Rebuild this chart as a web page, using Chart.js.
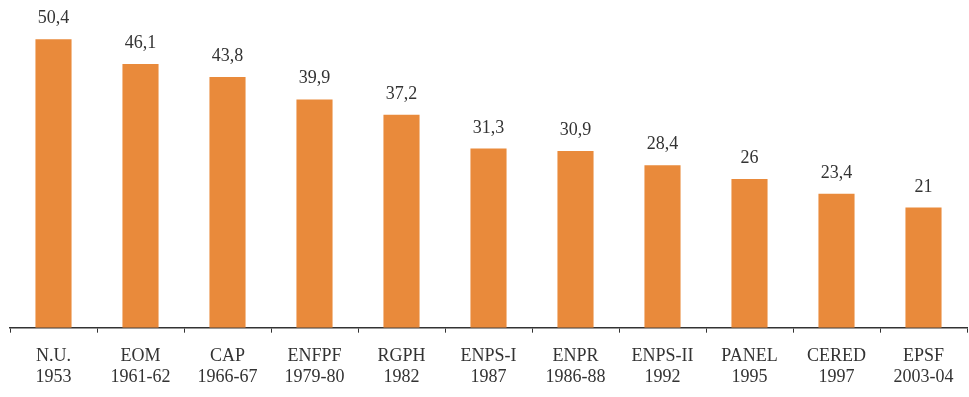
<!DOCTYPE html>
<html>
<head>
<meta charset="utf-8">
<script src="https://cdn.jsdelivr.net/npm/chart.js@4.4.1/dist/chart.umd.min.js"></script>
<style>
    html, body { margin: 0; padding: 0; background: #fff; }
    #wrap { width: 969px; height: 397px; }
</style>
</head>
<body>
<div id="wrap"><canvas id="chart"></canvas></div>
<script>
// enquêtes et années
const surveys = ['N.U.', 'EOM', 'CAP', 'ENFPF', 'RGPH', 'ENPS-I', 'ENPR', 'ENPS-II', 'PANEL', 'CERED', 'EPSF'];
const years = ['1953', '1961-62', '1966-67', '1979-80', '1982', '1987', '1986-88', '1992', '1995', '1997', '2003-04'];
const values = [50.4, 46.1, 43.8, 39.9, 37.2, 31.3, 30.9, 28.4, 26, 23.4, 21];

const labels = surveys.map((s, i) => [s, years[i]]);

// valeurs au-dessus des barres, virgule décimale
const valueLabels = {
    id: 'valueLabels',
    afterDatasetsDraw(chart) {
        const ctx = chart.ctx;
        const meta = chart.getDatasetMeta(0);
        ctx.save();
        ctx.font = '18px "Liberation Serif", "DejaVu Serif", serif';
        ctx.fillStyle = '#333';
        ctx.textAlign = 'center';
        ctx.textBaseline = 'alphabetic';
        meta.data.forEach((bar, i) => {
            const txt = String(values[i]).replace('.', ',');
            ctx.fillText(txt, bar.x, bar.y - 16);
        });
        ctx.restore();
    }
};

new Chart(document.getElementById('chart'), {
    type: 'bar',
    data: {
        labels: labels,
        datasets: [{
            data: values,
            backgroundColor: '#E98A3B',
            borderWidth: 0,
            barPercentage: 0.5,
            categoryPercentage: 0.83
        }]
    },
    options: {
        responsive: true,
        maintainAspectRatio: false,
        animation: false,
        layout: { padding: { top: 13, left: 10, right: 2, bottom: -4 } },
        plugins: {
            legend: { display: false },
            tooltip: { enabled: false }
        },
        scales: {
            y: { display: false, min: 0, max: 55 },
            x: {
                grid: {
                    offset: true,
                    drawOnChartArea: false,
                    drawTicks: true,
                    tickLength: 5,
                    color: '#333'
                },
                border: { display: true, color: '#333', width: 1.5 },
                ticks: {
                    color: '#333',
                    padding: 14,
                    maxRotation: 0,
                    autoSkip: false,
                    font: { family: '"Liberation Serif", "DejaVu Serif", serif', size: 18, lineHeight: 1.12 }
                }
            }
        }
    },
    plugins: [valueLabels]
});
</script>
</body>
</html>
